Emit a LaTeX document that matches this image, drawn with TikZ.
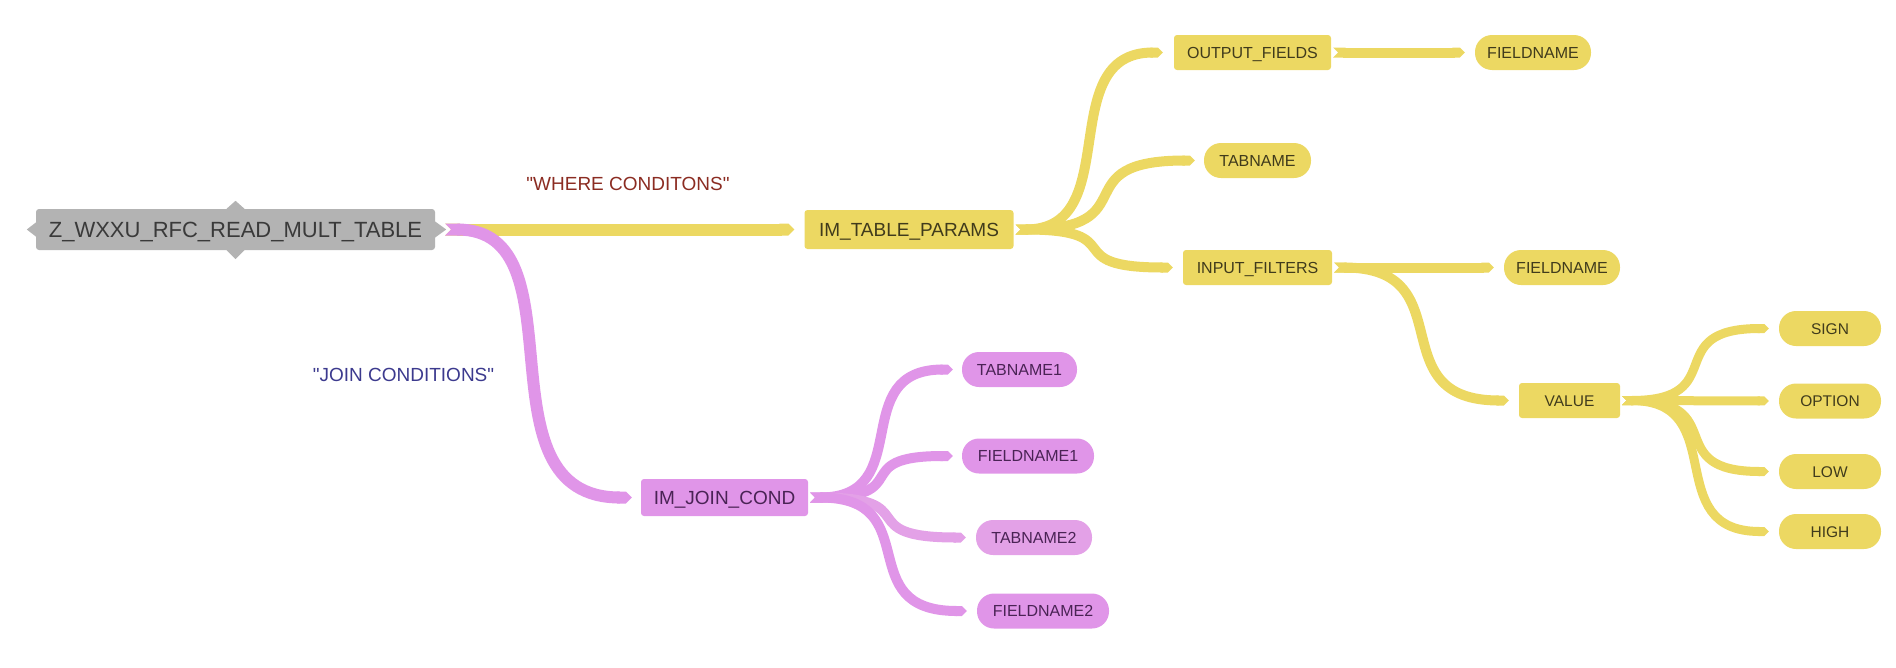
\documentclass[tikz,border=0pt]{standalone}
\usepackage{fontspec}
\setmainfont{Liberation Sans}
\newfontfamily\lblfont{Liberation Sans}
\usetikzlibrary{arrows.meta,calc}
\definecolor{yel}{HTML}{ECD862}
\definecolor{purp}{HTML}{E095E8}
\definecolor{purpL}{HTML}{E3A1E7}
\definecolor{rootg}{HTML}{B3B3B3}
\definecolor{txtY}{HTML}{403B1C}
\definecolor{txtP}{HTML}{4A2355}
\definecolor{txtR}{HTML}{3A3A3A}
\definecolor{whereC}{HTML}{8B2C22}
\definecolor{joinC}{HTML}{3C3A8E}
\newcommand\myfs[1]{\fontsize{#1}{#1}\selectfont}
\tikzset{
  base/.style={inner sep=0pt, text depth=0pt, align=center},
  rootbox/.style={base, fill=rootg, text=txtR, rounded corners=3pt, font=\myfs{22}, text height=15.8pt},
  ybox/.style={base, fill=yel, text=txtY, rounded corners=3pt},
  ypill/.style={base, fill=yel, text=txtY, rounded corners=17pt},
  pbox/.style={base, fill=purp, text=txtP, rounded corners=3pt},
  ppill/.style={base, fill=purp, text=txtP, rounded corners=17pt},
  lvlone/.style={font=\myfs{19}, text height=13.6pt},
  lvltwo/.style={font=\myfs{16}, text height=11.5pt},
  lvlthree/.style={font=\myfs{15.5}, text height=11.1pt},
  edgelabel/.style={font=\lblfont\myfs{19}, text height=13.6pt, text depth=0pt},
  link/.style={line width=#1, {Triangle Cap[reversed]}-{Triangle Cap}},
  curve/.style 2 args={to path={let \p1=(\tikztostart), \p2=(\tikztotarget),
      \n1={\x1+#1*(\x2-\x1)}, \n2={\x1+#2*(\x2-\x1)} in
      .. controls (\n1,\y1) and (\n2,\y2) .. (\tikztotarget)}},
  sym/.style={curve={0.75}{0.25}},
}
\begin{document}
\begin{tikzpicture}[x=1pt,y=-1pt]
\useasboundingbox (0,0) rectangle (1896,667);

% nodes
\node[rootbox, minimum width=399pt, minimum height=41pt] (root) at (235.5,229.5) {Z\_WXXU\_RFC\_READ\_MULT\_TABLE};
\fill[rootg] ([xshift=-9pt]root.north) -- ([yshift=8pt]root.north) -- ([xshift=9pt]root.north) -- cycle;
\fill[rootg] ([xshift=-9pt]root.south) -- ([yshift=-9pt]root.south) -- ([xshift=9pt]root.south) -- cycle;
\fill[rootg] ([yshift=7pt]root.west) -- ([xshift=-9pt]root.west) -- ([yshift=-7pt]root.west) -- cycle;
\fill[rootg] ([yshift=8pt]root.east) -- ([xshift=11pt]root.east) -- ([yshift=-8pt]root.east) -- cycle;

\node[ybox, lvlone, minimum width=209pt, minimum height=39pt] (tp) at (909,229.5) {IM\_TABLE\_PARAMS};
\node[pbox, lvlone, minimum width=167pt, minimum height=37pt] (jc) at (724.5,497.5) {IM\_JOIN\_COND};

\node[ybox, lvltwo, minimum width=157pt, minimum height=35pt] (of) at (1252.5,52.5) {OUTPUT\_FIELDS};
\node[ypill, lvltwo, minimum width=116pt, minimum height=35pt] (fn1) at (1533,52.5) {FIELDNAME};
\node[ypill, lvltwo, minimum width=107pt, minimum height=35pt] (tab) at (1257.5,160.5) {TABNAME};
\node[ybox, lvltwo, minimum width=149pt, minimum height=35pt] (if) at (1257.5,267.5) {INPUT\_FILTERS};
\node[ypill, lvltwo, minimum width=116pt, minimum height=35pt] (fn2) at (1562,267.5) {FIELDNAME};
\node[ybox, lvlthree, minimum width=101pt, minimum height=35pt] (val) at (1569.5,400.5) {VALUE};
\node[ypill, lvlthree, minimum width=102pt, minimum height=35pt] (sign) at (1830,328.5) {SIGN};
\node[ypill, lvlthree, minimum width=102pt, minimum height=35pt] (option) at (1830,401) {OPTION};
\node[ypill, lvlthree, minimum width=102pt, minimum height=35pt] (low) at (1830,471.5) {LOW};
\node[ypill, lvlthree, minimum width=102pt, minimum height=35pt] (high) at (1830,531.5) {HIGH};

\node[ppill, lvltwo, minimum width=115pt, minimum height=35pt] (t1) at (1019.5,369.5) {TABNAME1};
\node[ppill, lvltwo, minimum width=132pt, minimum height=35pt] (f1) at (1028,456) {FIELDNAME1};
\node[ppill, lvltwo, fill=purpL, minimum width=116pt, minimum height=35pt] (t2) at (1034,537.5) {TABNAME2};
\node[ppill, lvltwo, minimum width=132pt, minimum height=35pt] (f2) at (1043,611) {FIELDNAME2};

\node[edgelabel, text=whereC] (wherelbl) at (628,184) {"WHERE CONDITONS"};
\node[edgelabel, text=joinC] (joinlbl) at (403.5,375) {"JOIN CONDITIONS"};

% connectors
\draw[link=12pt, yel] ([xshift=10pt]root.east) -- ([xshift=-10pt]tp.west);
\draw[link=12pt, purp] ([xshift=10pt]root.east) to[curve={0.75}{0.15}] ([xshift=-9pt]jc.west);

\draw[link=10pt, yel] ([xshift=2pt]tp.east) to[sym] ([xshift=-11pt]of.west);
\draw[link=10pt, yel] ([xshift=2pt]tp.east) to[sym] ([xshift=-9pt]tab.west);
\draw[link=10pt, yel] ([xshift=2pt]tp.east) to[sym] ([xshift=-10pt]if.west);

\draw[link=10pt, yel] ([xshift=2pt]of.east) -- ([xshift=-10pt]fn1.west);
\draw[link=10pt, yel] ([xshift=2pt]if.east) -- ([xshift=-10pt]fn2.west);
\draw[link=10pt, yel] ([xshift=2pt]if.east) to[sym] ([xshift=-10pt]val.west);

\draw[link=9pt, yel] ([xshift=2pt]val.east) to[sym] ([xshift=-10pt]sign.west);
\draw[link=9pt, yel] ([xshift=2pt]val.east) -- ([xshift=-10pt]option.west);
\draw[link=9pt, yel] ([xshift=2pt]val.east) to[sym] ([xshift=-10pt]low.west);
\draw[link=9pt, yel] ([xshift=2pt]val.east) to[sym] ([xshift=-10pt]high.west);

\draw[link=10pt, purp] ([xshift=2pt]jc.east) to[sym] ([xshift=-9pt]t1.west);
\draw[link=10pt, purp] ([xshift=2pt]jc.east) to[sym] ([xshift=-9pt]f1.west);
\draw[link=10pt, purpL] ([xshift=2pt]jc.east) to[sym] ([xshift=-10pt]t2.west);
\draw[link=10pt, purp] ([xshift=2pt]jc.east) to[sym] ([xshift=-10pt]f2.west);
\end{tikzpicture}
\end{document}
